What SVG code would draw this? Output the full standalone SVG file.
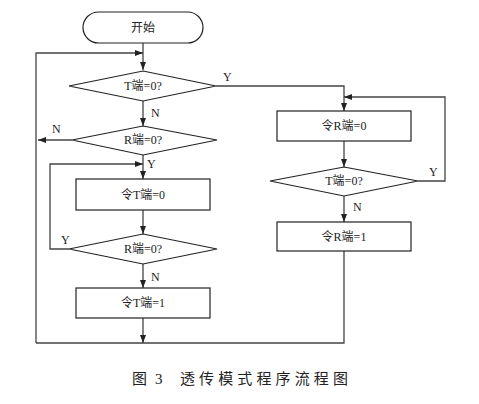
<svg xmlns="http://www.w3.org/2000/svg" width="479" height="404" viewBox="0 0 479 404">
<defs>
<marker id="ah" markerWidth="8" markerHeight="6" refX="8" refY="3" orient="auto" markerUnits="userSpaceOnUse">
<path d="M0,0 L8,3 L0,6 Z" fill="#222"/>
</marker>
<style>
.n{fill:#fff;stroke:#222;stroke-width:1.2}
.t{font-family:"Liberation Serif","Noto Sans CJK SC",serif;font-size:12px;fill:#222;text-anchor:middle;dominant-baseline:central}
.l{font-family:"Liberation Serif",serif;font-size:12px;fill:#222}
.c{fill:none;stroke:#444;stroke-width:1.3}
.cap{font-family:"Liberation Serif","Noto Sans CJK SC",serif;font-size:15px;fill:#222}
</style>
</defs>
<rect width="479" height="404" fill="#fff"/>
<g id="connectors">
<path class="c" d="M143,43 V70" marker-end="url(#ah)"/>
<path class="c" d="M36,343 V53 H143" marker-end="url(#ah)"/>
<path class="c" d="M143,101 V126" marker-end="url(#ah)"/>
<path class="c" d="M72,140 H38" marker-end="url(#ah)"/>
<path class="c" d="M143,155 V179" marker-end="url(#ah)"/>
<path class="c" d="M69,249 H50 V164 H143" marker-end="url(#ah)"/>
<path class="c" d="M143,210 V234" marker-end="url(#ah)"/>
<path class="c" d="M143,264 V288" marker-end="url(#ah)"/>
<path class="c" d="M143,318 V343" marker-end="url(#ah)"/>
<path class="c" d="M216,86 H344 V111" marker-end="url(#ah)"/>
<path class="c" d="M344,141 V167" marker-end="url(#ah)"/>
<path class="c" d="M418,181 H445 V97 H344" marker-end="url(#ah)"/>
<path class="c" d="M344,196 V222" marker-end="url(#ah)"/>
<path class="c" d="M344,251 V343 H36"/>
<text class="l" x="223" y="81">Y</text>
<text class="l" x="151" y="117">N</text>
<text class="l" x="52" y="133">N</text>
<text class="l" x="147" y="168">Y</text>
<text class="l" x="61" y="244">Y</text>
<text class="l" x="151" y="281">N</text>
<text class="l" x="429" y="176">Y</text>
<text class="l" x="353" y="211">N</text>
</g>
<g id="start">
<rect class="n" x="83" y="12" width="120" height="31" rx="15.5"/>
<text class="t" x="143" y="27.5">开始</text>
</g>
<g id="d1">
<polygon class="n" points="143,71 216,86 143,101 69,86"/>
<text class="t" x="143" y="86">T端=0?</text>
</g>
<g id="d2">
<polygon class="n" points="143,126 217,140 143,155 72,140"/>
<text class="t" x="143" y="140">R端=0?</text>
</g>
<g id="b1">
<rect class="n" x="76" y="179" width="134" height="31"/>
<text class="t" x="143" y="194.5">令T端=0</text>
</g>
<g id="d3">
<polygon class="n" points="143,234 217,249 143,264 69,249"/>
<text class="t" x="143" y="249">R端=0?</text>
</g>
<g id="b2">
<rect class="n" x="76" y="288" width="134" height="30"/>
<text class="t" x="143" y="303">令T端=1</text>
</g>
<g id="b3">
<rect class="n" x="277" y="111" width="134" height="30"/>
<text class="t" x="344" y="126">令R端=0</text>
</g>
<g id="d4">
<polygon class="n" points="344,167 418,181 344,196 270,181"/>
<text class="t" x="344" y="181">T端=0?</text>
</g>
<g id="b4">
<rect class="n" x="277" y="222" width="134" height="29"/>
<text class="t" x="344" y="236.5">令R端=1</text>
</g>
<g id="caption">
<text class="cap" x="132" y="384">图<tspan x="155">3</tspan></text>
<text class="cap" x="180" y="384" textLength="168" lengthAdjust="spacing">透传模式程序流程图</text>
</g>
</svg>
